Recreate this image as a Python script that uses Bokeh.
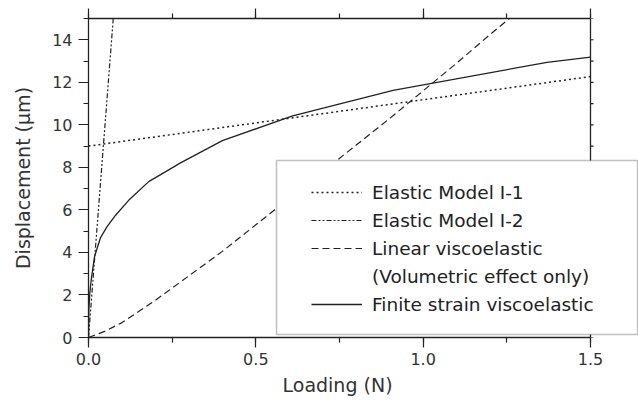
from bokeh.plotting import figure
from bokeh.models import (Range1d, LinearAxis, SingleIntervalTicker, NumeralTickFormatter,
                          Legend, LegendItem, BoxAnnotation, Span, CustomLabelingPolicy, Title)
from bokeh.embed import file_html
from bokeh.resources import INLINE

# ---- data ----
elastic1_x = [0.0, 1.5]
elastic1_y = [9.0, 12.27]

elastic2_x = [0.0, 0.074]
elastic2_y = [0.0, 15.0]

linear_x = [0.0, 0.05, 0.1, 0.2, 0.3, 0.4, 0.5, 0.6, 0.7, 0.8, 0.9, 1.0, 1.1, 1.2, 1.3]
linear_y = [0.0, 0.3, 0.7, 1.75, 2.9, 4.05, 5.3, 6.55, 7.8, 9.05, 10.3, 11.6, 12.9, 14.25, 15.55]

finite_x = [0.0, 0.001, 0.004, 0.008, 0.018, 0.036, 0.055, 0.081, 0.12, 0.18, 0.275,
            0.40, 0.61, 0.91, 1.37, 1.5]
finite_y = [0.0, 1.3, 2.1, 2.7, 3.8, 4.7, 5.2, 5.75, 6.45, 7.33, 8.21,
            9.26, 10.42, 11.62, 12.94, 13.18]

labels = ["Elastic Model I-1", "Elastic Model I-2", "Linear viscoelastic",
          "(Volumetric effect only)", "Finite strain viscoelastic"]

x_title = "Loading (N)"
y_title = "Displacement (μm)"

right_ticks = list(range(0, 16))

FONT = "DejaVu Sans"
INK = "#222222"

X_MAX = 1.5
FRAME_W = 550          # frame runs to the window edge so the legend box is not clipped
AXIS_W = 502           # pixel width of the 0..1.5 span
x_end = X_MAX * FRAME_W / AXIS_W

p = figure(width=638, height=404, x_range=Range1d(0, x_end), y_range=Range1d(0, 15),
           output_backend="svg", toolbar_location=None,
           min_border_left=88, min_border_right=0, min_border_top=18, min_border_bottom=67,
           x_axis_location=None, y_axis_location=None)
p.xgrid.grid_line_color = None
p.ygrid.grid_line_color = None
p.outline_line_color = None
p.background_fill_color = "white"
p.border_fill_color = "white"

def xt():
    return SingleIntervalTicker(interval=0.5, num_minor_ticks=2)

def yt():
    return SingleIntervalTicker(interval=2, num_minor_ticks=2)

def style(ax, ticks_out, minor_out, labels_on):
    ax.axis_line_color = INK
    ax.axis_line_width = 1.3
    ax.major_tick_line_color = INK
    ax.minor_tick_line_color = INK
    ax.major_tick_line_width = 1.2
    ax.minor_tick_line_width = 1.2
    ax.major_tick_in = 0
    ax.minor_tick_in = 0
    ax.major_tick_out = ticks_out
    ax.minor_tick_out = minor_out
    if labels_on:
        ax.major_label_text_font = FONT
        ax.major_label_text_font_size = "16px"
        ax.major_label_text_color = "#333333"
        ax.axis_label_text_font = FONT
        ax.axis_label_text_font_size = "19px"
        ax.axis_label_text_font_style = "normal"
        ax.axis_label_text_color = "#333333"
    else:
        ax.major_label_text_font_size = "0px"
        ax.major_label_standoff = 0
        ax.major_label_policy = CustomLabelingPolicy(code="return new Set()")

xb = LinearAxis(ticker=xt(), formatter=NumeralTickFormatter(format="0.0"), bounds=(0, X_MAX))
style(xb, 10, 5, True)
xb.major_label_standoff = 5
p.add_layout(xb, "below")

# x-axis title centred under the 0..1.5 span (not under the wider frame)
xtitle = Title(text=x_title, align="left", offset=194, standoff=9,
               text_font=FONT, text_font_size="19px", text_font_style="normal",
               text_color="#333333")
p.add_layout(xtitle, "below")

yl = LinearAxis(ticker=yt(), axis_label=y_title)
style(yl, 10, 5, True)
yl.major_label_standoff = 6
yl.axis_label_standoff = 15
p.add_layout(yl, "left")

xa = LinearAxis(ticker=xt(), bounds=(0, X_MAX))
style(xa, 10, 5, False)
p.add_layout(xa, "above")

# right-hand frame edge at x = 1.5 with short outward ticks
p.add_layout(Span(location=X_MAX, dimension="height", line_color=INK, line_width=1.3))
tick_dx = 3 * x_end / FRAME_W
p.segment(x0=[X_MAX] * len(right_ticks), y0=right_ticks,
          x1=[X_MAX + tick_dx] * len(right_ticks), y1=right_ticks,
          line_color=INK, line_width=1.2)

r1 = p.line(elastic1_x, elastic1_y, line_color=INK, line_width=1.5, line_dash="2 3")
r2 = p.line(elastic2_x, elastic2_y, line_color=INK, line_width=1.2, line_dash="5 2 2 2 2 2")
r3 = p.line(linear_x, linear_y, line_color=INK, line_width=1.2, line_dash="7 4")
r0 = p.line([0, 0], [0, 0], line_alpha=0)
r4 = p.line(finite_x, finite_y, line_color=INK, line_width=1.3)

box = BoxAnnotation(left=188, right=549, bottom=3, top=177,
                    left_units="screen", right_units="screen",
                    bottom_units="screen", top_units="screen",
                    fill_color="white", fill_alpha=1.0,
                    line_color="#333333", line_width=1.5)
p.add_layout(box)

legend = Legend(items=[LegendItem(label=labels[0], renderers=[r1]),
                       LegendItem(label=labels[1], renderers=[r2]),
                       LegendItem(label=labels[2], renderers=[r3]),
                       LegendItem(label=labels[3], renderers=[r0]),
                       LegendItem(label=labels[4], renderers=[r4])],
                location=(213, 11))
legend.background_fill_alpha = 0
legend.border_line_alpha = 0
legend.label_text_font = FONT
legend.label_text_font_size = "18.5px"
legend.label_text_color = INK
legend.glyph_width = 51
legend.glyph_height = 24
legend.label_height = 24
legend.label_standoff = 10
legend.spacing = 4
legend.padding = 10
legend.margin = 0
p.add_layout(legend, "center")

open("out.html", "w").write(file_html(p, INLINE))
